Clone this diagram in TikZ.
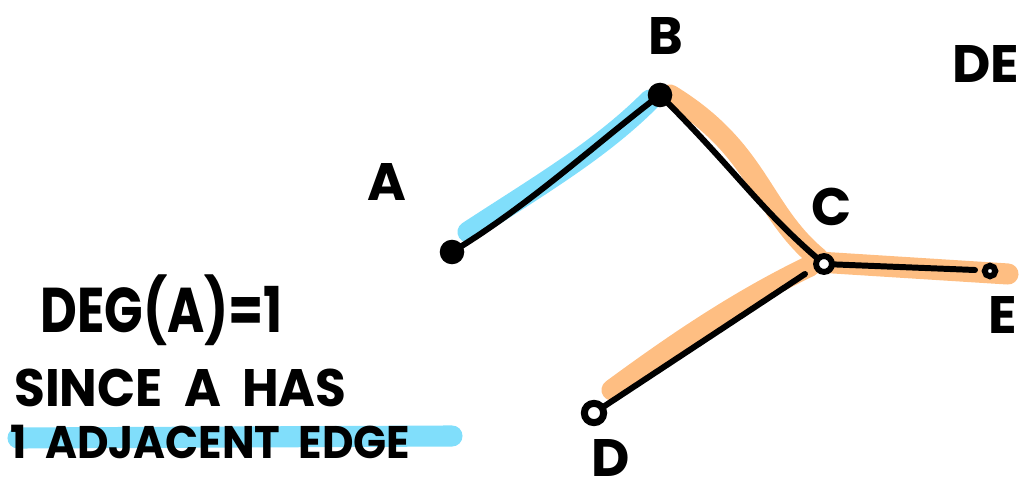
\documentclass[tikz,border=0pt]{standalone}
\usepackage{fontspec}
\setmainfont{Poppins}
\definecolor{hlblue}{HTML}{80DEFB}
\definecolor{hlorange}{HTML}{FEBE82}
\begin{document}
\begin{tikzpicture}[x=0.02cm,y=-0.02cm,
  edge/.style={line width=3.4pt,line cap=round,black},
  hlb/.style={line width=12pt,line cap=round,hlblue},
  hlo/.style={line width=12pt,line cap=round,hlorange},
  vfill/.style={circle,fill=black,inner sep=0pt,minimum size=14pt},
  vring/.style={circle,draw=black,line width=3.4pt,fill=white,inner sep=0pt,minimum size=9pt},
  vbig/.style={circle,draw=black,line width=4pt,fill=white,inner sep=0pt,minimum size=11pt},
  vsmall/.style={circle,draw=black,line width=3.4pt,fill=white,inner sep=0pt,minimum size=6pt},
  lbl/.style={font=\fontsize{30}{30}\selectfont\bfseries,inner sep=0pt},
  txt/.style={inner sep=0pt,anchor=west}]
\useasboundingbox (0,0) rectangle (1029,500);
\clip (0,0) rectangle (1029,500);
% vertex positions
\coordinate (A) at (452,252);
\coordinate (B) at (660,95);
\coordinate (C) at (824,264);
\coordinate (D) at (594,413);
\coordinate (E) at (990,271);
% highlights
\draw[hlb] (468,232) .. controls (540,185) and (600,150) .. (650,100);
\draw[hlo] (670,95) .. controls (760,150) and (760,210) .. (818,258);
\draw[hlo] (818,262) -- (1008,274);
\draw[hlo] (810,266) .. controls (740,300) and (680,340) .. (612,390);
\draw[hlb] (18,438) -- (452,436);
% edges
\draw[edge] (A) .. controls (530,205) and (600,140) .. (B);
\draw[edge] (B) .. controls (740,175) and (760,210) .. (C);
\draw[edge] (C) -- (975,270);
\draw[edge] (805,274) -- (D);
% vertices
\node[vfill] (vA) at (A) {};
\node[vfill] (vB) at (B) {};
\node[vring] (vC) at (C) {};
\node[vbig] (vD) at (D) {};
\node[vsmall] (vE) at (E) {};
% labels
\node[lbl] (lA) at (387,182) {A};
\node[lbl] (lB) at (666,36) {B};
\node[lbl] (lC) at (832,207) {C};
\node[lbl] (lD) at (611,458) {D};
\node[lbl] (lE) at (1003,315) {E};
\node[lbl,anchor=west] (lDE) at (952,64) {DE};
% explanation
\node[txt,font=\fontsize{36}{36}\selectfont\bfseries] (t1) at (40,310) {\scalebox{0.8}[1]{DEG(A)=1}};
\node[txt,font=\fontsize{30}{30}\selectfont\bfseries] (t2) at (14,388) {\scalebox{0.95}[1]{SINCE\ \ A\ \ HAS}};
\node[txt,font=\fontsize{26}{26}\selectfont\bfseries] (t3) at (10,442) {\scalebox{0.95}[1]{1\ \ ADJACENT\ \ EDGE}};
\end{tikzpicture}
\end{document}
